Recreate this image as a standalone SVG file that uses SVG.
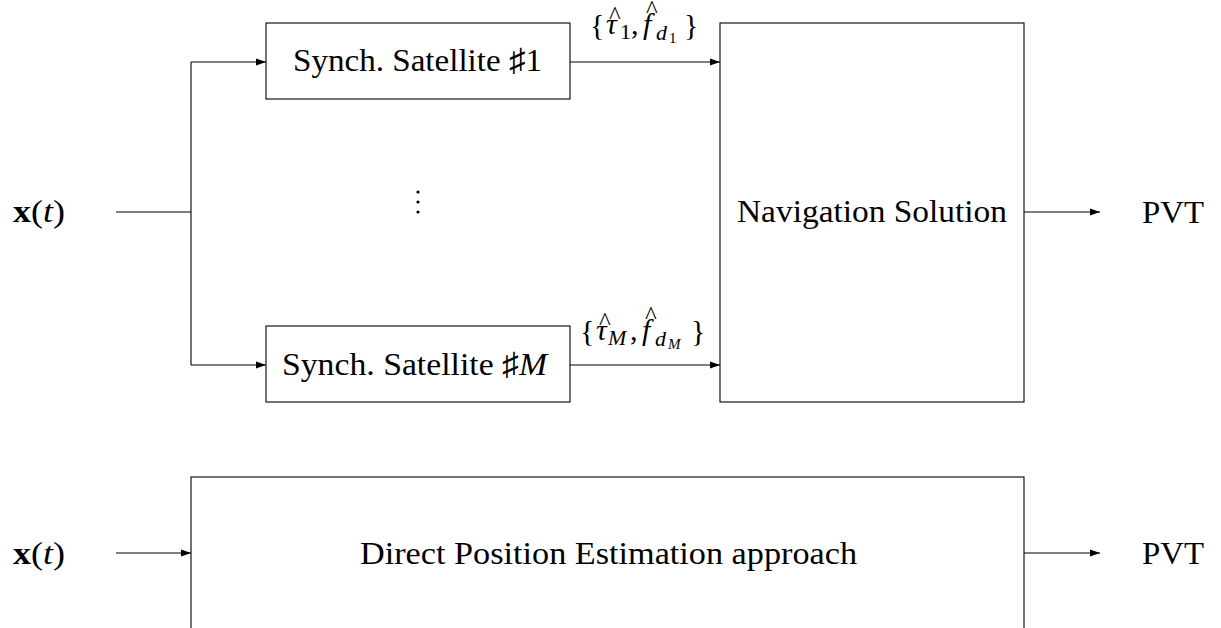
<svg xmlns="http://www.w3.org/2000/svg" width="1221" height="628" viewBox="0 0 1221 628">
<style>
text{font-family:"Liberation Serif","DejaVu Serif",serif;font-size:32px;fill:#000}
.box{fill:#fff;stroke:#000;stroke-width:1.1}
.ln{fill:none;stroke:#000;stroke-width:1.1}
.it{font-style:italic}
.m{font-size:30px}
.sub{font-size:22px}
.subsub{font-size:15px}
.hat{font-size:25px;font-style:normal}
</style>
<defs>
<marker id="ah" markerWidth="12" markerHeight="8" refX="10" refY="4" orient="auto" markerUnits="userSpaceOnUse">
<path d="M0,0.6 L10,4 L0,7.4 Z" fill="#000"/>
</marker>
</defs>
<g id="connectors">
<path class="ln" d="M116,212 H191"/>
<path class="ln" d="M191,62 V365"/>
<path class="ln" d="M191,62 H266" marker-end="url(#ah)"/>
<path class="ln" d="M191,365 H266" marker-end="url(#ah)"/>
<path class="ln" d="M570,62 H720" marker-end="url(#ah)"/>
<path class="ln" d="M570,365 H720" marker-end="url(#ah)"/>
<path class="ln" d="M1024,212 H1100" marker-end="url(#ah)"/>
<path class="ln" d="M116,553 H191" marker-end="url(#ah)"/>
<path class="ln" d="M1024,553 H1100" marker-end="url(#ah)"/>
</g>
<g id="input-top"><text x="13" y="222" textLength="52" lengthAdjust="spacingAndGlyphs"><tspan font-weight="bold">x</tspan>(<tspan class="it">t</tspan>)</text></g>
<g id="sat1">
<rect class="box" x="266" y="23" width="304" height="76"/>
<text x="293" y="71" textLength="249" lengthAdjust="spacingAndGlyphs">Synch. Satellite ♯1</text>
</g>
<g id="dots">
<circle cx="418" cy="192" r="1.6"/>
<circle cx="418" cy="202" r="1.6"/>
<circle cx="418" cy="212" r="1.6"/>
</g>
<g id="satM">
<rect class="box" x="266" y="326" width="304" height="76"/>
<text x="282" y="375" textLength="265" lengthAdjust="spacingAndGlyphs">Synch. Satellite ♯<tspan class="it">M</tspan></text>
</g>
<g id="label1">
<text class="m"><tspan x="590" y="35">{</tspan><tspan class="it" x="606" y="34">τ</tspan><tspan class="hat" x="609" y="24">^</tspan><tspan class="sub" x="620" y="39">1</tspan><tspan x="631" y="34">,</tspan><tspan class="it" x="643" y="34">f</tspan><tspan class="hat" x="646" y="18">^</tspan><tspan class="sub it" x="656" y="40">d</tspan><tspan class="subsub" x="669" y="43">1</tspan><tspan x="684" y="35">}</tspan></text>
</g>
<g id="labelM">
<text class="m"><tspan x="580" y="341">{</tspan><tspan class="it" x="596" y="340">τ</tspan><tspan class="hat" x="599" y="330">^</tspan><tspan class="sub it" x="608" y="345">M</tspan><tspan x="630" y="340">,</tspan><tspan class="it" x="642" y="340">f</tspan><tspan class="hat" x="645" y="324">^</tspan><tspan class="sub it" x="655" y="346">d</tspan><tspan class="subsub it" x="668" y="349">M</tspan><tspan x="691" y="341">}</tspan></text>
</g>
<g id="nav">
<rect class="box" x="720" y="23" width="304" height="379"/>
<text x="737" y="222" textLength="270" lengthAdjust="spacingAndGlyphs">Navigation Solution</text>
</g>
<g id="pvt-top"><text x="1142" y="223" textLength="62" lengthAdjust="spacingAndGlyphs">PVT</text></g>
<g id="input-bottom"><text x="13" y="564" textLength="52" lengthAdjust="spacingAndGlyphs"><tspan font-weight="bold">x</tspan>(<tspan class="it">t</tspan>)</text></g>
<g id="dpe">
<rect class="box" x="191" y="477" width="833" height="170"/>
<text x="360" y="564" textLength="497" lengthAdjust="spacingAndGlyphs">Direct Position Estimation approach</text>
</g>
<g id="pvt-bottom"><text x="1142" y="564" textLength="62" lengthAdjust="spacingAndGlyphs">PVT</text></g>
</svg>
